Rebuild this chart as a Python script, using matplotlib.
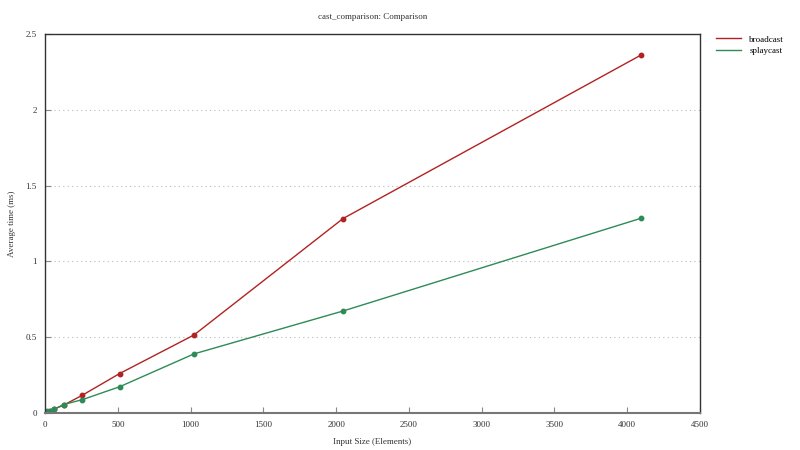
import matplotlib
matplotlib.use("Agg")
import matplotlib.pyplot as plt

sizes = [1, 2, 4, 8, 16, 32, 64, 128, 256, 512, 1024, 2048, 4096]
broadcast = [0.002, 0.003, 0.004, 0.005, 0.008, 0.014, 0.027, 0.052, 0.117, 0.260, 0.515, 1.283, 2.362]
splaycast = [0.003, 0.004, 0.005, 0.007, 0.010, 0.015, 0.025, 0.056, 0.088, 0.173, 0.390, 0.673, 1.285]
xticks = [0, 500, 1000, 1500, 2000, 2500, 3000, 3500, 4000, 4500]
yticks = [0, 0.5, 1, 1.5, 2, 2.5]
ytick_labels = ["0", "0.5", "1", "1.5", "2", "2.5"]

plt.rcParams['font.family'] = ['Liberation Serif', 'DejaVu Serif']
fig = plt.figure(figsize=(8, 4.5), dpi=100)
ax = fig.add_axes([0.05625, 0.0822, 0.81875, 0.8422])

ax.plot(sizes, broadcast, color='#b22222', lw=1.0, marker='o', ms=3.2, label='broadcast')
ax.plot(sizes, splaycast, color='#2e8b57', lw=1.0, marker='o', ms=3.2, label='splaycast')

ax.set_xlim(0, 4500)
ax.set_ylim(0, 2.5)
ax.set_xticks(xticks)
ax.set_xticklabels([str(t) for t in xticks])
ax.set_yticks(yticks)
ax.set_yticklabels(ytick_labels)
ax.tick_params(direction='in', length=4, labelsize=6.5, pad=6, width=0.8)
ax.tick_params(axis='x', colors='#888888', labelcolor='#333333')
ax.tick_params(axis='y', colors='#888888', labelcolor='#333333')
ax.yaxis.grid(True, linestyle=(0, (1, 3)), color='#bbbbbb', lw=0.8)
ax.set_axisbelow(True)
for s in ['top', 'right', 'left']:
    ax.spines[s].set_color('#333333')
    ax.spines[s].set_linewidth(1.0)
ax.spines['bottom'].set_color('#777777')
ax.spines['bottom'].set_linewidth(1.5)

ax.set_xlabel('Input Size (Elements)', fontsize=6.5, color='#333333', labelpad=6)
ax.set_ylabel('Average time (ms)', fontsize=6.5, color='#333333')
ax.yaxis.set_label_coords(-0.044, 0.5)
fig.text(0.5 * (0.05625 + 0.875), 1 - 17 / 450, 'cast_comparison: Comparison', ha='center', va='center',
         fontsize=6.5, color='#333333')

ax.legend(loc='upper left', bbox_to_anchor=(1.012, 1.018), frameon=False, fontsize=6.5,
          handlelength=2.8, labelspacing=0.35, handletextpad=0.9, markerscale=0)

fig.savefig('out.png', dpi=100)
